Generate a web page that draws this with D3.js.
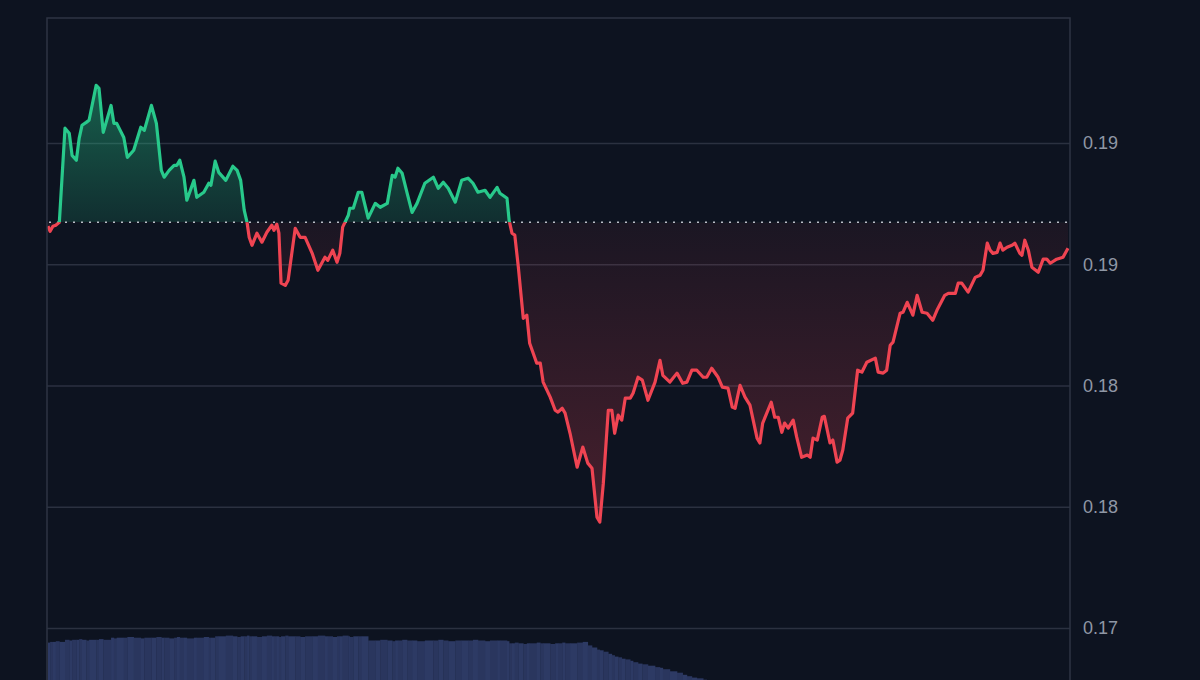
<!DOCTYPE html>
<html><head><meta charset="utf-8">
<script src="https://cdn.jsdelivr.net/npm/d3@7"></script>
<style>html,body{margin:0;padding:0;background:#0d1320;overflow:hidden}</style>
</head><body><svg id="c" width="1200" height="680"></svg>
<script>
// minutes since start of the session
const minutes = [0,3,7,11,16,24,30,34,40,44,48,54,58,68,72,78,89,93,97,107,112,121,131,136,146,153,160,164,171,178,182,186,192,196,206,210,220,227,230,236,241,251,261,267,272,277,281,284,288,295,302,309,316,319,323,326,329,335,339,349,356,363,373,381,391,395,402,408,412,416,424,426,431,438,443,452,462,469,479,486,490,494,500,507,514,521,532,544,551,558,565,575,584,593,600,607,617,624,634,638,648,651,655,659,664,671,676,680,690,695,699,709,716,720,726,730,737,747,755,762,768,775,779,784,791,796,800,805,810,815,822,826,833,839,847,857,864,868,878,888,896,902,909,916,925,930,937,946,952,960,966,970,977,984,991,1001,1005,1009,1021,1026,1031,1036,1040,1045,1052,1057,1064,1072,1076,1080,1086,1093,1096,1104,1108,1114,1118,1122,1129,1136,1143,1149,1156,1168,1172,1179,1184,1189,1193,1203,1207,1213,1221,1227,1234,1241,1249,1255,1266,1271,1281,1285,1290,1299,1309,1316,1320,1326,1330,1334,1340,1344,1348,1354,1361,1365,1372,1375,1379,1384,1389,1398,1405,1410,1415,1424,1433,1440];
const prices = [0.19157,0.19136,0.19157,0.19161,0.19173,0.19561,0.19540,0.19449,0.19429,0.19519,0.19573,0.19585,0.19594,0.19738,0.19725,0.19544,0.19655,0.19581,0.19581,0.19523,0.19441,0.19470,0.19565,0.19552,0.19655,0.19581,0.19387,0.19359,0.19387,0.19408,0.19408,0.19429,0.19359,0.19264,0.19346,0.19276,0.19297,0.19334,0.19326,0.19425,0.19379,0.19346,0.19404,0.19387,0.19346,0.19223,0.19173,0.19111,0.19078,0.19128,0.19091,0.19132,0.19161,0.19140,0.19165,0.19128,0.18922,0.18913,0.18934,0.19148,0.19111,0.19111,0.19045,0.18975,0.19029,0.19016,0.19058,0.19008,0.19045,0.19153,0.19202,0.19231,0.19231,0.19297,0.19297,0.19190,0.19251,0.19235,0.19251,0.19367,0.19359,0.19396,0.19375,0.19293,0.19214,0.19251,0.19334,0.19359,0.19313,0.19338,0.19313,0.19256,0.19346,0.19355,0.19334,0.19297,0.19305,0.19276,0.19317,0.19293,0.19272,0.19181,0.19128,0.19120,0.18988,0.18777,0.18790,0.18674,0.18592,0.18592,0.18514,0.18452,0.18398,0.18390,0.18406,0.18386,0.18303,0.18163,0.18246,0.18180,0.18159,0.17957,0.17937,0.18097,0.18398,0.18398,0.18303,0.18378,0.18357,0.18448,0.18448,0.18468,0.18534,0.18522,0.18439,0.18514,0.18604,0.18542,0.18514,0.18551,0.18509,0.18514,0.18563,0.18563,0.18534,0.18534,0.18571,0.18534,0.18493,0.18489,0.18411,0.18406,0.18501,0.18452,0.18419,0.18283,0.18263,0.18345,0.18431,0.18369,0.18369,0.18307,0.18345,0.18324,0.18357,0.18287,0.18204,0.18213,0.18204,0.18283,0.18275,0.18369,0.18373,0.18263,0.18275,0.18184,0.18192,0.18233,0.18365,0.18386,0.18563,0.18555,0.18596,0.18613,0.18555,0.18551,0.18563,0.18666,0.18679,0.18798,0.18802,0.18843,0.18790,0.18872,0.18802,0.18798,0.18769,0.18810,0.18872,0.18880,0.18880,0.18922,0.18922,0.18885,0.18946,0.18955,0.18975,0.19087,0.19058,0.19045,0.19049,0.19087,0.19058,0.19070,0.19078,0.19087,0.19045,0.19037,0.19099,0.19058,0.18988,0.18967,0.19021,0.19021,0.19004,0.19021,0.19029,0.19066];
const volumes = [82,83,83,84,83,
86,85,86,86,87,86,85,86,86,87,86,
89,88,89,89,90,89,88,89,89,90,89,89,88,89,90,89,89,88,89,89,90,89,89,
91,91,92,91,90,91,91,92,91,91,90,91,92,91,91,91,90,91,92,91,91,90,91,91,92,91,91,90,91,91,92,91,90,91,91,91,
85,85,86,85,84,85,85,86,85,85,84,85,85,86,85,84,85,85,85,86,85,84,85,85,85,84,
81,81,82,81,80,81,81,82,81,81,80,81,81,82,81,81,82,
83,
78,75,72,71,69,66,64,62,61,59,58,56,54,52,51,49,47,46,44,41,39,36,34,32,31,29,28,26,25,
24,24,23,23,22,22,21,21,20,20,20,19,19,19,18,18,18,17,17,17,17,16,16,16,16,15,15,15,15,15,14,14,14,14,14,14,13,13,13,13,13,13,13,12,12,12,12,12,12,12,12,12,12,12,12,11,11,11,11,11,11,11,11,11,11,11,11,11,11,11,11,11,11,11,11,10,10,10,10,10];
const baselinePrice = 0.19173;
const tickValues = [0.195, 0.19, 0.185, 0.18, 0.175];
const tickLabels = ["0.19", "0.19", "0.18", "0.18", "0.17"];

const W = 1200, H = 680;
const padL = 47, padR = 1070, padT = 18;
const n = Math.min(minutes.length, prices.length);
const data = d3.range(n).map(i => ({t: minutes[i], p: prices[i], v: volumes[i] || 0}));

const svg = d3.select("#c");
const x = d3.scaleLinear().domain([0, 1440]).range([48, 1068]);
const y = d3.scaleLinear().domain([0.175, 0.195]).range([628, 143]);
const yv = d3.scaleLinear().domain([0, 100]).range([700, 630]);
const yb = y(baselinePrice);

const defs = svg.append("defs");
defs.append("clipPath").attr("id", "above").append("rect")
  .attr("x", padL).attr("y", padT).attr("width", padR - padL).attr("height", yb - padT);
defs.append("clipPath").attr("id", "below").append("rect")
  .attr("x", padL).attr("y", yb).attr("width", padR - padL).attr("height", H - yb);

const gG = defs.append("linearGradient").attr("id", "gGreen")
  .attr("gradientUnits", "userSpaceOnUse").attr("x1", 0).attr("x2", 0)
  .attr("y1", y(d3.max(prices))).attr("y2", yb);
gG.append("stop").attr("offset", 0).attr("stop-color", "#26c98a").attr("stop-opacity", 0.42);
gG.append("stop").attr("offset", 1).attr("stop-color", "#26c98a").attr("stop-opacity", 0.15);
const gR = defs.append("linearGradient").attr("id", "gRed")
  .attr("gradientUnits", "userSpaceOnUse").attr("x1", 0).attr("x2", 0)
  .attr("y1", yb).attr("y2", y(d3.min(prices)));
gR.append("stop").attr("offset", 0).attr("stop-color", "#ef4452").attr("stop-opacity", 0.06);
gR.append("stop").attr("offset", 1).attr("stop-color", "#ef4452").attr("stop-opacity", 0.26);

// volume bars
svg.append("g").selectAll("rect").data(data).join("rect")
  .attr("x", d => x(d.t))
  .attr("width", (d, i) => i < n - 1 ? Math.max(1, x(data[i + 1].t) - x(d.t) + 0.3) : 2)
  .attr("y", d => yv(d.v))
  .attr("height", d => Math.max(0, yv(0) - yv(d.v)))
  .attr("fill", (d, i) => i % 2 ? "#2a365e" : "#2d3a64");

// grid + right axis
const axis = d3.axisRight(y).tickValues(tickValues)
  .tickFormat((d, i) => tickLabels[i]).tickSize(-(padR - padL)).tickPadding(13);
const ag = svg.append("g").attr("transform", `translate(${padR},0)`).call(axis);
ag.select(".domain").remove();
ag.selectAll(".tick line").attr("stroke", "#2b3140").attr("stroke-width", 1.5);
ag.selectAll(".tick text").attr("fill", "#8f97a5")
  .style("font-family", "'Liberation Sans', Arial, sans-serif").style("font-size", "18px");

// areas
const area = d3.area().x(d => x(d.t)).y0(yb).y1(d => y(d.p));
svg.append("path").datum(data).attr("d", area).attr("fill", "url(#gGreen)").attr("clip-path", "url(#above)");
svg.append("path").datum(data).attr("d", area).attr("fill", "url(#gRed)").attr("clip-path", "url(#below)");

// baseline
svg.append("line").attr("x1", padL + 2).attr("x2", padR).attr("y1", yb).attr("y2", yb)
  .attr("stroke", "#b9bdc6").attr("stroke-width", 1.6).attr("stroke-dasharray", "2,6");

// lines
const line = d3.line().x(d => x(d.t)).y(d => y(d.p));
svg.append("path").datum(data).attr("d", line).attr("fill", "none")
  .attr("stroke", "#28c98b").attr("stroke-width", 3.2).attr("stroke-linejoin", "round")
  .attr("clip-path", "url(#above)");
svg.append("path").datum(data).attr("d", line).attr("fill", "none")
  .attr("stroke", "#ef4452").attr("stroke-width", 3.2).attr("stroke-linejoin", "round")
  .attr("clip-path", "url(#below)");

// frame
svg.append("path").attr("d", `M${padL},${H} V${padT} H${padR} V${H}`)
  .attr("fill", "none").attr("stroke", "#2e3443").attr("stroke-width", 1.5);
</script></body></html>
